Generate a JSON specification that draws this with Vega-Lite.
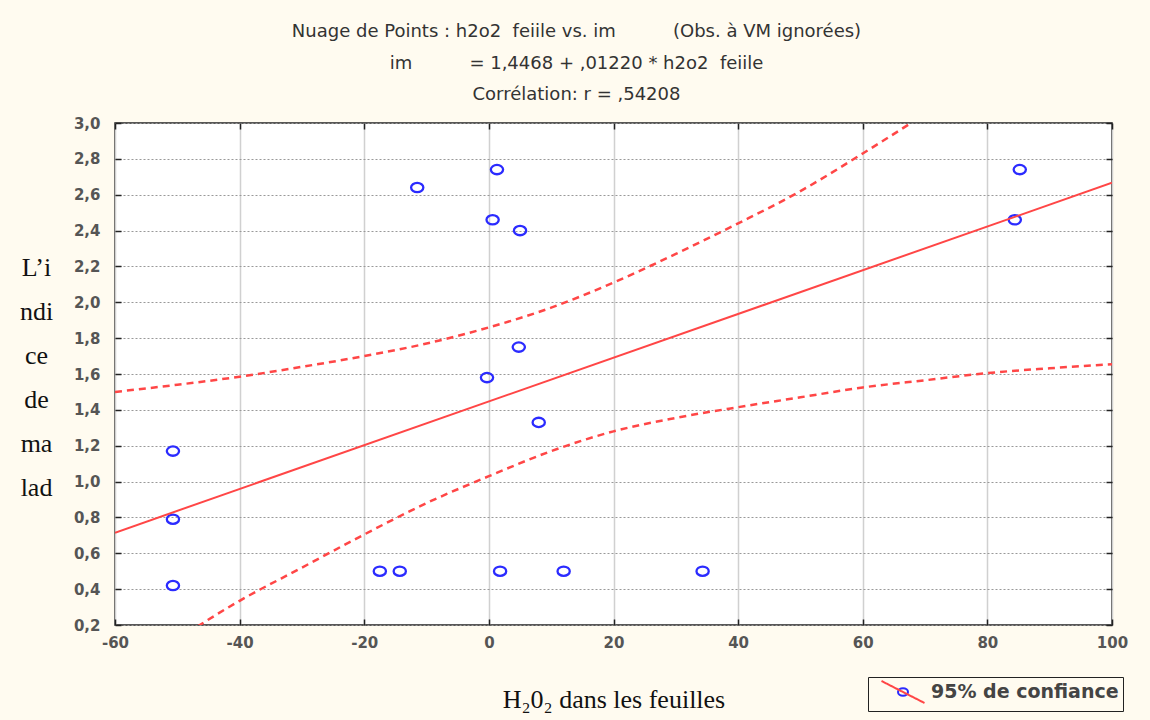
{
  "$schema": "https://vega.github.io/schema/vega-lite/v6.json",
  "width": 997,
  "height": 502,
  "autosize": {"type": "none"},
  "padding": {"left": 115, "top": 123, "right": 38, "bottom": 95},
  "background": "#fffbf0",
  "title": {
    "text": [
      "Nuage de Points : h2o2\u00a0 feiile vs. im\u00a0\u00a0\u00a0\u00a0\u00a0\u00a0\u00a0\u00a0\u00a0 (Obs. à VM ignorées)",
      "im\u00a0\u00a0\u00a0\u00a0\u00a0\u00a0\u00a0\u00a0\u00a0 = 1,4468 + ,01220 * h2o2\u00a0 feiile",
      "Corrélation: r = ,54208"
    ],
    "anchor": "middle",
    "frame": "group",
    "dx": -37,
    "offset": 12,
    "font": "DejaVu Sans",
    "fontSize": 18,
    "fontWeight": "normal",
    "color": "#333",
    "lineHeight": 31.5
  },
  "config": {"view": {"stroke": "#222", "strokeWidth": 1.5, "fill": "white"}},
  "datasets": {
    "pts": [
      {"x": -11.5, "y": 2.64},
      {"x": 1.3, "y": 2.74},
      {"x": 0.6, "y": 2.46},
      {"x": 5.0, "y": 2.40},
      {"x": 4.8, "y": 1.75},
      {"x": -0.3, "y": 1.58},
      {"x": 8.0, "y": 1.33},
      {"x": -50.7, "y": 1.17},
      {"x": -50.7, "y": 0.79},
      {"x": -50.7, "y": 0.42},
      {"x": -17.5, "y": 0.50},
      {"x": -14.3, "y": 0.50},
      {"x": 1.8, "y": 0.50},
      {"x": 12.0, "y": 0.50},
      {"x": 34.3, "y": 0.50},
      {"x": 84.4, "y": 2.46},
      {"x": 85.2, "y": 2.74}
    ],
    "reg": [
      {"x": -60, "y": 0.7148},
      {"x": 100, "y": 2.6668}
    ],
    "band": [
      {"band": "upper", "x": -60, "y": 1.50},
      {"band": "upper", "x": -50, "y": 1.54},
      {"band": "upper", "x": -40, "y": 1.585},
      {"band": "upper", "x": -30, "y": 1.64},
      {"band": "upper", "x": -20, "y": 1.70},
      {"band": "upper", "x": -10, "y": 1.77},
      {"band": "upper", "x": 0, "y": 1.86},
      {"band": "upper", "x": 10, "y": 1.97},
      {"band": "upper", "x": 20, "y": 2.11},
      {"band": "upper", "x": 30, "y": 2.27},
      {"band": "upper", "x": 40, "y": 2.44},
      {"band": "upper", "x": 50, "y": 2.62},
      {"band": "upper", "x": 60, "y": 2.83},
      {"band": "upper", "x": 70, "y": 3.05},
      {"band": "lower", "x": -50, "y": 0.12},
      {"band": "lower", "x": -40, "y": 0.335},
      {"band": "lower", "x": -30, "y": 0.52},
      {"band": "lower", "x": -20, "y": 0.705},
      {"band": "lower", "x": -10, "y": 0.88},
      {"band": "lower", "x": 0, "y": 1.03},
      {"band": "lower", "x": 10, "y": 1.17},
      {"band": "lower", "x": 20, "y": 1.28},
      {"band": "lower", "x": 30, "y": 1.355},
      {"band": "lower", "x": 40, "y": 1.415},
      {"band": "lower", "x": 50, "y": 1.47},
      {"band": "lower", "x": 60, "y": 1.525},
      {"band": "lower", "x": 70, "y": 1.565},
      {"band": "lower", "x": 80, "y": 1.605},
      {"band": "lower", "x": 90, "y": 1.632},
      {"band": "lower", "x": 100, "y": 1.655}
    ]
  },
  "layer": [
    {
      "data": {"name": "pts"},
      "mark": {"type": "point", "filled": false, "stroke": "#2b2bff", "strokeWidth": 2.3, "size": 600, "opacity": 1},
      "encoding": {
        "x": {
          "field": "x", "type": "quantitative",
          "scale": {"domain": [-60, 100], "nice": false, "zero": false},
          "axis": {
            "orient": "bottom",
            "values": [-60, -40, -20, 0, 20, 40, 60, 80, 100],
            "labelExpr": "toString(datum.value)",
            "labelFont": "DejaVu Sans", "labelFontWeight": "bold", "labelFontSize": 15, "labelColor": "#555",
            "labelPadding": 16, "labelFlush": false,
            "tickSize": -6, "tickColor": "#222", "tickWidth": 1.5,
            "domain": false,
            "grid": true, "gridColor": "#d0d0d0", "gridWidth": 1.5,
            "title": "H₂0₂ dans les feuilles",
            "titleFont": "Liberation Serif", "titleFontSize": 26, "titleFontWeight": "normal", "titleColor": "#111",
            "titlePadding": 36
          }
        },
        "y": {
          "field": "y", "type": "quantitative",
          "scale": {"domain": [0.2, 3.0], "nice": false, "zero": false},
          "axis": {
            "orient": "left",
            "values": [0.2, 0.4, 0.6, 0.8, 1.0, 1.2, 1.4, 1.6, 1.8, 2.0, 2.2, 2.4, 2.6, 2.8, 3.0],
            "labelExpr": "replace(format(datum.value, '.1f'), '.', ',')",
            "labelFont": "DejaVu Sans", "labelFontWeight": "bold", "labelFontSize": 15, "labelColor": "#555",
            "labelPadding": 21,
            "tickSize": -6, "tickColor": "#222", "tickWidth": 1.5,
            "domain": false,
            "grid": true, "gridColor": "#999", "gridDash": [2, 2], "gridWidth": 1,
            "title": ["L’i", "ndi", "ce", "de", "ma", "lad"],
            "titleAngle": 0, "titleAlign": "center", "titleBaseline": "middle",
            "titleX": -79, "titleY": 144, "titleLineHeight": 44,
            "titleFont": "Liberation Serif", "titleFontSize": 26, "titleFontWeight": "normal", "titleColor": "#111"
          }
        },
        "shape": {
          "datum": "95% de confiance ",
          "scale": {"range": ["M0.5,0A0.5,0.38 0 1,1 -0.5,0A0.5,0.38 0 1,1 0.5,0"]},
          "legend": {
            "orient": "none", "legendX": 753, "legendY": 554, "title": null,
            "symbolType": "M0.5,0A0.5,0.38 0 1,1 -0.5,0A0.5,0.38 0 1,1 0.5,0",
            "symbolSize": 400, "symbolStrokeColor": "#2b2bff", "symbolFillColor": "transparent", "symbolStrokeWidth": 2,
            "symbolOffset": 20, "labelOffset": 17, "padding": 4, "labelLimit": 400,
            "labelFont": "DejaVu Sans", "labelFontWeight": "bold", "labelFontSize": 19, "labelColor": "#444",
            "labelOpacity": 0
          }
        }
      }
    },
    {
      "data": {"name": "reg"},
      "mark": {"type": "line", "color": "#ff4646", "strokeWidth": 2, "clip": true},
      "encoding": {
        "x": {
          "field": "x", "type": "quantitative",
          "axis": {"orient": "top", "labels": false, "title": null, "grid": false, "domain": false,
                   "values": [-60, -40, -20, 0, 20, 40, 60, 80, 100], "tickSize": -6, "tickColor": "#222", "tickWidth": 1.5}
        },
        "y": {
          "field": "y", "type": "quantitative",
          "axis": {"orient": "right", "labels": false, "title": null, "grid": false, "domain": false,
                   "values": [0.2, 0.4, 0.6, 0.8, 1.0, 1.2, 1.4, 1.6, 1.8, 2.0, 2.2, 2.4, 2.6, 2.8, 3.0], "tickSize": -6, "tickColor": "#222", "tickWidth": 1.5}
        }
      }
    },
    {
      "data": {"name": "band"},
      "mark": {"type": "line", "strokeWidth": 2.5, "strokeDash": [7, 5], "clip": true, "interpolate": "monotone"},
      "encoding": {
        "x": {"field": "x", "type": "quantitative", "axis": null},
        "y": {"field": "y", "type": "quantitative", "axis": null},
        "detail": {"field": "band"},
        "stroke": {
          "datum": "95% de confiance",
          "scale": {"range": ["#ff4646"]},
          "legend": {
            "orient": "none", "legendX": 753, "legendY": 554, "title": null,
            "symbolType": "M-2.15,-1.1L2.15,1.1",
            "symbolSize": 400, "symbolStrokeWidth": 2, "symbolDash": [1, 0],
            "symbolOffset": 20, "labelOffset": 17, "padding": 4, "labelLimit": 400,
            "labelFont": "DejaVu Sans", "labelFontWeight": "bold", "labelFontSize": 19, "labelColor": "#444",
            "labelExpr": "datum.label + '\u2003\u2003'",
            "strokeColor": "#222"
          }
        }
      }
    }
  ],
  "resolve": {"axis": {"x": "independent", "y": "independent"}}
}
